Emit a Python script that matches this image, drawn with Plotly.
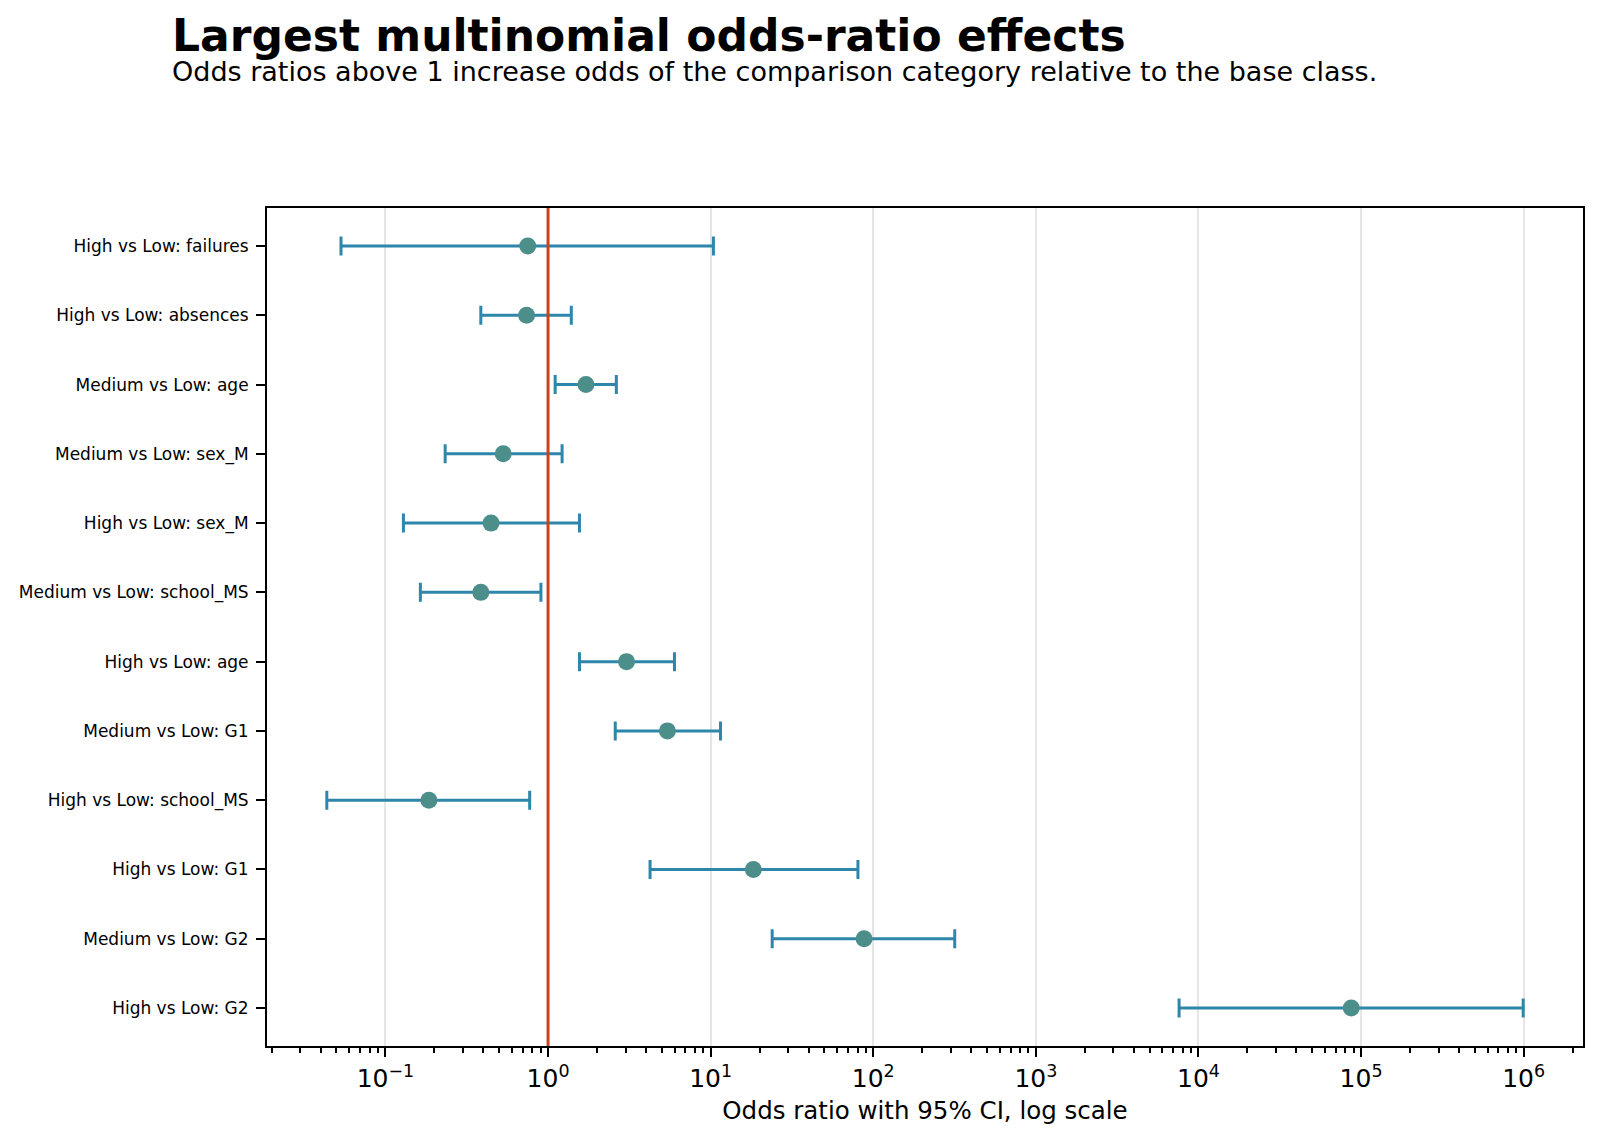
import plotly.graph_objects as go
import numpy as np

labels = [
    "High vs Low: failures",
    "High vs Low: absences",
    "Medium vs Low: age",
    "Medium vs Low: sex_M",
    "High vs Low: sex_M",
    "Medium vs Low: school_MS",
    "High vs Low: age",
    "Medium vs Low: G1",
    "High vs Low: school_MS",
    "High vs Low: G1",
    "Medium vs Low: G2",
    "High vs Low: G2",
]
odds_ratio = [0.75, 0.738, 1.71, 0.53, 0.446, 0.386, 3.04, 5.42, 0.185, 18.3, 87.8, 87000]
ci_lower = [0.0533, 0.386, 1.106, 0.233, 0.129, 0.164, 1.56, 2.59, 0.0436, 4.24, 23.9, 7600]
ci_upper = [10.4, 1.39, 2.63, 1.22, 1.56, 0.904, 5.99, 11.5, 0.771, 80.5, 317, 993000]

tick_vals = [1e-1, 1e0, 1e1, 1e2, 1e3, 1e4, 1e5, 1e6]
tick_text = ["10<sup>\u22121</sup>", "10<sup>0</sup>", "10<sup>1</sup>", "10<sup>2</sup>",
             "10<sup>3</sup>", "10<sup>4</sup>", "10<sup>5</sup>", "10<sup>6</sup>"]

title_text = "Largest multinomial odds-ratio effects"
subtitle_text = "Odds ratios above 1 increase odds of the comparison category relative to the base class."
x_title = "Odds ratio with 95% CI, log scale"

ypos = list(range(len(labels)))
or_arr = np.array(odds_ratio)
err_plus = np.array(ci_upper) - or_arr
err_minus = or_arr - np.array(ci_lower)

FONT = "DejaVu Sans"

fig = go.Figure()
fig.add_trace(go.Scatter(
    x=odds_ratio, y=ypos, mode="markers",
    marker=dict(size=17, color="#4c8f8a", line=dict(width=0)),
    error_x=dict(type="data", symmetric=False, array=err_plus, arrayminus=err_minus,
                 color="#2e86ab", thickness=3, width=9.5),
    showlegend=False, cliponaxis=False,
))

fig.add_vline(x=1, line=dict(color="#c8431f", width=3), layer="above")

lo = np.log10(min(ci_lower))
hi = np.log10(max(ci_upper))
pad = 0.05 * (hi - lo)

fig.update_layout(
    width=1600, height=1141,
    margin=dict(l=267, r=17, t=208, b=95),
    paper_bgcolor="white", plot_bgcolor="white",
    font=dict(family=FONT, color="black"),
    showlegend=False,
)
fig.update_xaxes(
    type="log", range=[lo - pad, hi + pad],
    tickvals=tick_vals, ticktext=tick_text,
    tickfont=dict(size=25, family=FONT),
    ticks="outside", ticklen=9, tickwidth=2, tickcolor="black",
    showgrid=True, gridcolor="#e6e6e6", gridwidth=2,
    showline=True, linecolor="black", linewidth=2, mirror=True,
    zeroline=False,
    minor=dict(ticks="outside", ticklen=5, tickwidth=1.5, tickcolor="black",
               dtick="D1", showgrid=False),
    title=dict(text=x_title, font=dict(size=24.5, family=FONT), standoff=10),
)
fig.update_yaxes(
    range=[len(labels) - 1 + 0.55, -0.55],
    tickvals=ypos, ticktext=labels,
    tickfont=dict(size=17, family=FONT),
    ticks="outside", ticklen=9, tickwidth=2, tickcolor="black",
    ticklabelstandoff=4,
    showgrid=False, zeroline=False,
    showline=True, linecolor="black", linewidth=2, mirror=True,
)

fig.add_annotation(
    text="<b>" + title_text + "</b>", xref="paper", yref="paper",
    x=(170 - 267) / 1316, y=1 + (208 - 35.5) / 838,
    xanchor="left", yanchor="middle", showarrow=False,
    font=dict(size=44, family=FONT, color="black"),
)
fig.add_annotation(
    text=subtitle_text, xref="paper", yref="paper",
    x=(170 - 267) / 1316, y=1 + (208 - 71) / 838,
    xanchor="left", yanchor="middle", showarrow=False,
    font=dict(size=27, family=FONT, color="black"),
)

fig.write_html("out.html")
